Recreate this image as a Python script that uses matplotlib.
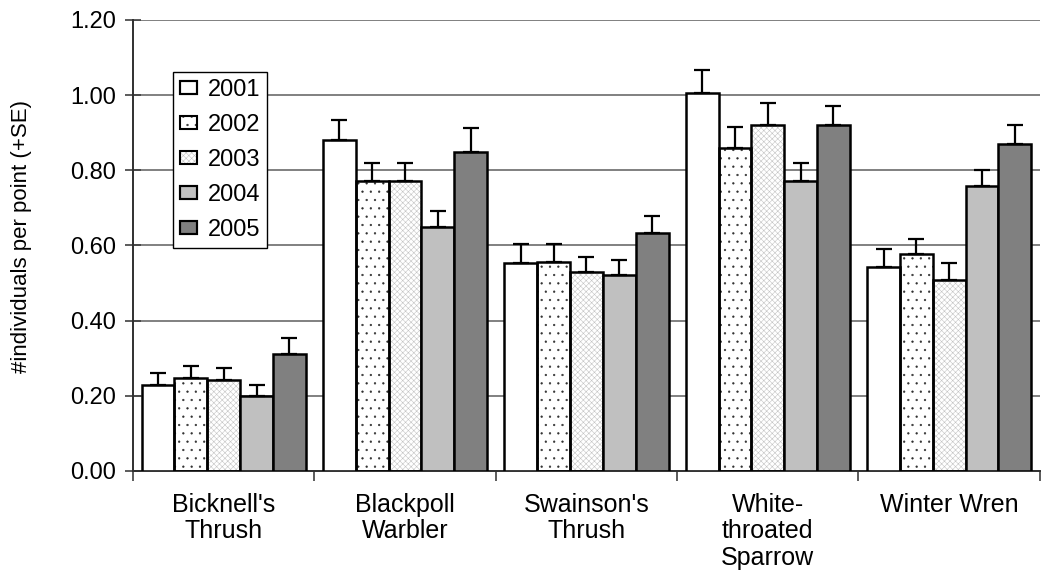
import numpy as np
import matplotlib
matplotlib.use("Agg")
import matplotlib.pyplot as plt
from matplotlib.patches import Patch
from matplotlib.legend_handler import HandlerTuple

# especies e anos
especies = ["Bicknell's\nThrush", "Blackpoll\nWarbler", "Swainson's\nThrush",
            "White-\nthroated\nSparrow", "Winter Wren"]
anos = ["2001", "2002", "2003", "2004", "2005"]

# media de individuos por ponto, uma lista por ano
media_2001 = [0.23, 0.88, 0.553, 1.005, 0.544]
media_2002 = [0.247, 0.772, 0.556, 0.86, 0.577]
media_2003 = [0.242, 0.772, 0.53, 0.92, 0.509]
media_2004 = [0.20, 0.65, 0.522, 0.772, 0.759]
media_2005 = [0.311, 0.849, 0.632, 0.92, 0.87]

# erro padrao (so a parte de cima e desenhada)
ep_2001 = [0.03, 0.055, 0.05, 0.062, 0.047]
ep_2002 = [0.033, 0.048, 0.047, 0.056, 0.039]
ep_2003 = [0.032, 0.048, 0.04, 0.06, 0.044]
ep_2004 = [0.03, 0.042, 0.039, 0.048, 0.041]
ep_2005 = [0.043, 0.064, 0.047, 0.051, 0.05]

medias = [media_2001, media_2002, media_2003, media_2004, media_2005]
erros = [ep_2001, ep_2002, ep_2003, ep_2004, ep_2005]

# preenchimento de cada ano: (cor, hachura, cor da hachura)
estilos = [
    ("white", None, None),
    ("white", "..", "#303030"),
    ("white", "xxxxxx", "#c4c4c4"),
    ("#c0c0c0", None, None),
    ("#808080", None, None),
]

plt.rcParams["font.family"] = ["Liberation Sans", "DejaVu Sans"]
plt.rcParams["hatch.linewidth"] = 0.4

fig = plt.figure(figsize=(10.43, 5.76), dpi=100)
ax = fig.add_axes([0.1275, 0.1823, 0.8695, 0.7830])

x = np.arange(len(especies))
largura = 0.181
handles = []

for i in range(len(anos)):
    pos = x + (i - 2) * largura
    cor, hachura, cor_hach = estilos[i]

    if hachura:
        ax.bar(pos, medias[i], largura, color=cor, hatch=hachura,
               edgecolor=cor_hach, linewidth=0, zorder=2)
        ax.bar(pos, medias[i], largura, fill=False,
               edgecolor="black", linewidth=1.8, zorder=3)
    else:
        ax.bar(pos, medias[i], largura, color=cor,
               edgecolor="black", linewidth=1.8, zorder=3)

    ax.errorbar(pos, medias[i], yerr=[np.zeros(len(x)), erros[i]],
                fmt="none", ecolor="black", elinewidth=1.6,
                capsize=5.5, capthick=1.6, zorder=4)

    fundo = Patch(facecolor=cor, hatch=hachura,
                  edgecolor=cor_hach if hachura else "black",
                  linewidth=0 if hachura else 1.5)
    borda = Patch(fill=False, edgecolor="black", linewidth=1.5)
    handles.append((fundo, borda))

ax.set_ylim(0, 1.2)
ax.set_yticks(np.arange(0, 1.21, 0.2))
ax.set_yticklabels([f"{v:.2f}" for v in np.arange(0, 1.21, 0.2)], fontsize=17)
ax.set_xlim(-0.5, len(especies) - 0.5)

# rotulos no centro do grupo, marcas entre os grupos
ax.set_xticks(x)
ax.set_xticklabels(especies, fontsize=18, linespacing=1.12)
ax.tick_params(axis="x", which="major", length=0, pad=16)
ax.set_xticks(np.arange(-0.5, len(especies), 1.0), minor=True)
ax.tick_params(axis="x", which="minor", length=7, width=1.2, color="#404040")
ax.tick_params(axis="y", direction="inout", length=12, width=1.2,
               color="#404040", pad=6)

ax.yaxis.grid(True, color="#808080", linewidth=1.4, zorder=0)
ax.set_axisbelow(True)

for lado in ["top", "right"]:
    ax.spines[lado].set_visible(False)
for lado in ["left", "bottom"]:
    ax.spines[lado].set_color("#303030")
    ax.spines[lado].set_linewidth(1.4)

ax.set_ylabel("#individuals per point (+SE)", fontsize=16)
ax.yaxis.set_label_coords(-0.111, 0.521)

leg = ax.legend(handles, anos, handler_map={tuple: HandlerTuple(ndivide=1)},
                loc="upper left", bbox_to_anchor=(0.044, 0.885),
                borderaxespad=0, fontsize=17, handlelength=0.72,
                handleheight=0.5, handletextpad=0.45, labelspacing=0.55,
                fancybox=False, framealpha=1, edgecolor="black",
                borderpad=0.3)
leg.get_frame().set_linewidth(1.0)

fig.savefig("out.png", dpi=100)
